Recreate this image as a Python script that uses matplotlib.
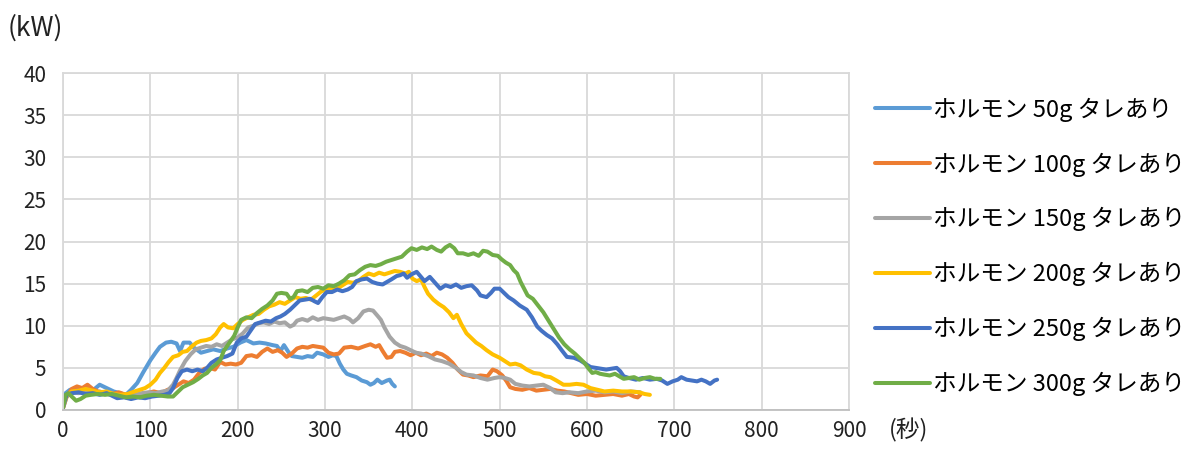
import matplotlib
matplotlib.use("Agg")
import matplotlib.pyplot as plt

plt.rcParams['font.family'] = ['Noto Sans CJK JP', 'DejaVu Sans']

# 経過時間 [秒] と 電力 [kW]
t_50 = [0, 3, 8, 15, 22, 28, 35, 42, 50, 58, 65, 72, 78, 85, 92, 100, 106, 111, 118, 124,
        130, 134, 138, 145, 150, 158, 165, 172, 180, 188, 195, 203, 210, 218, 225, 232, 240,
        245, 249, 253, 258, 262, 268, 274, 280, 286, 291, 298, 304, 309, 313, 317, 321, 325,
        330, 336, 342, 348, 352, 356, 360, 365, 371, 374, 377, 380]
kw_50 = [0.3, 2.0, 2.4, 2.5, 2.2, 2.6, 2.4, 3.0, 2.6, 2.2, 2.0, 1.8, 2.4, 3.2, 4.5, 5.9, 6.8, 7.5, 8.0, 8.1,
         7.9, 7.0, 8.0, 8.0, 7.4, 6.8, 7.0, 7.2, 7.0, 7.3, 7.5, 8.0, 8.3, 7.9, 8.0, 7.9, 7.7,
         7.6, 7.0, 7.7, 6.9, 6.4, 6.3, 6.2, 6.4, 6.3, 6.8, 6.6, 6.3, 6.5, 6.4, 5.5, 4.8, 4.3,
         4.1, 3.9, 3.5, 3.3, 3.0, 3.2, 3.6, 3.2, 3.5, 3.6, 3.1, 2.8]

t_100 = [0, 4, 10, 16, 22, 28, 34, 40, 48, 56, 64, 72, 80, 88, 96, 104, 112, 120, 126, 132,
         138, 144, 150, 156, 162, 168, 174, 180, 186, 192, 198, 204, 210, 216, 222, 228, 234,
         240, 246, 251, 256, 262, 268, 274, 280, 286, 292, 298, 304, 310, 316, 322, 330, 338,
         346, 352, 358, 362, 366, 371, 376, 380, 386, 392, 398, 404, 410, 416, 422, 428, 434,
         440, 446, 452, 458, 464, 470, 478, 486, 492, 497, 503, 508, 512, 518, 526, 534, 542,
         550, 558, 566, 574, 582, 590, 600, 610, 620, 630, 640, 648, 654, 658, 661]
kw_100 = [0.2, 1.5, 2.5, 2.8, 2.6, 3.0, 2.5, 2.2, 2.0, 1.9, 2.1, 1.8, 1.7, 1.8, 2.0, 2.2, 2.0, 2.4, 2.6, 3.0,
          3.4, 3.2, 3.6, 4.4, 4.9, 5.0, 4.8, 5.7, 5.4, 5.5, 5.4, 5.6, 6.4, 6.5, 6.3, 6.9, 7.3,
          6.9, 7.1, 6.8, 6.3, 6.7, 7.3, 7.5, 7.4, 7.6, 7.5, 7.4, 6.8, 6.6, 6.7, 7.4, 7.5, 7.3,
          7.6, 7.8, 7.5, 7.7, 7.0, 6.2, 6.3, 6.9, 7.0, 6.8, 6.5, 6.8, 6.5, 6.7, 6.4, 6.8, 6.6,
          6.2, 5.6, 4.8, 4.2, 4.1, 3.9, 4.1, 4.0, 4.8, 4.6, 4.1, 3.4, 2.7, 2.5, 2.4, 2.6, 2.3,
          2.4, 2.5, 2.3, 2.2, 2.0, 1.8, 1.9, 1.7, 1.8, 1.9, 1.7, 1.9, 1.6, 1.5, 1.8]

t_150 = [0, 4, 10, 18, 26, 34, 42, 50, 58, 66, 74, 82, 90, 98, 106, 114, 120, 126, 130, 134,
         140, 146, 152, 158, 164, 170, 176, 182, 188, 194, 200, 206, 212, 218, 224, 230, 236,
         242, 248, 254, 260, 264, 268, 274, 280, 286, 292, 298, 304, 310, 316, 322, 328, 332,
         338, 344, 350, 355, 360, 364, 368, 374, 380, 386, 392, 398, 404, 410, 418, 426, 434,
         442, 450, 456, 462, 470, 478, 486, 494, 500, 506, 512, 518, 526, 534, 542, 550, 558,
         564, 572, 580, 590, 600, 610, 620, 630, 640, 650, 661]
kw_150 = [0.2, 1.6, 2.1, 2.0, 2.3, 2.0, 2.2, 1.9, 1.8, 1.6, 1.7, 1.8, 2.0, 2.1, 2.0, 2.2, 2.3, 3.0, 3.8, 4.7,
          5.8, 6.6, 7.2, 7.4, 7.6, 7.5, 7.8, 7.6, 8.0, 8.4, 8.6, 9.1, 9.8, 10.0, 10.3, 10.4, 10.2,
          10.5, 10.3, 10.4, 9.9, 10.1, 10.6, 10.8, 10.6, 11.0, 10.7, 10.9, 10.8, 10.7, 10.9, 11.1, 10.8, 10.4,
          10.9, 11.7, 11.9, 11.8, 11.2, 10.7, 9.8, 8.7, 8.0, 7.6, 7.4, 7.1, 6.8, 6.7, 6.4, 6.0, 5.8,
          5.5, 5.0, 4.5, 4.2, 4.1, 3.8, 3.6, 3.8, 3.9, 3.8, 3.6, 3.1, 2.9, 2.8, 2.9, 3.0, 2.6,
          2.1, 2.0, 2.1, 2.0, 2.2, 2.3, 2.1, 2.2, 2.0, 2.2, 2.1]

t_200 = [0, 4, 10, 18, 26, 34, 42, 50, 58, 66, 74, 82, 88, 94, 100, 106, 111, 116, 121, 126,
         132, 137, 142, 148, 153, 158, 164, 170, 175, 180, 184, 189, 195, 200, 206, 212, 218,
         224, 230, 236, 242, 248, 254, 260, 266, 272, 278, 284, 290, 296, 302, 308, 314, 320,
         326, 332, 338, 344, 350, 356, 362, 368, 374, 380, 386, 392, 396, 400, 405, 410, 414,
         418, 424, 430, 436, 442, 447, 451, 456, 462, 467, 473, 479, 485, 492, 500, 506, 512,
         518, 524, 531, 539, 546, 552, 558, 565, 573, 580, 588, 596, 604, 612, 620, 630, 640,
         650, 660, 666, 672]
kw_200 = [0.3, 1.7, 2.2, 2.3, 2.5, 2.3, 2.1, 2.2, 1.9, 1.8, 1.9, 2.2, 2.4, 2.6, 3.0, 3.6, 4.4, 5.0, 5.7, 6.3,
          6.5, 6.9, 7.0, 7.6, 8.0, 8.2, 8.3, 8.5, 9.0, 9.8, 10.2, 9.8, 9.7, 10.2, 10.7, 11.0, 11.3,
          11.4, 11.9, 12.3, 12.5, 12.8, 12.6, 13.0, 13.4, 13.2, 13.3, 13.1, 13.6, 14.1, 14.3, 14.5, 14.4, 14.8,
          15.2, 15.1, 15.3, 15.8, 16.2, 16.0, 16.3, 16.1, 16.3, 16.5, 16.4, 16.2, 16.4, 15.6, 15.3, 15.5, 14.6,
          13.8, 13.1, 12.6, 12.2, 11.6, 10.9, 11.3, 10.2, 9.1, 8.6, 8.0, 7.6, 7.1, 6.6, 6.2, 5.8, 5.4,
          5.5, 5.3, 4.8, 4.4, 4.3, 4.0, 3.9, 3.5, 3.0, 3.0, 3.1, 3.0, 2.6, 2.4, 2.2, 2.3, 2.2,
          2.2, 2.1, 1.9, 1.8]

t_250 = [0, 4, 10, 18, 26, 34, 42, 50, 56, 62, 70, 78, 86, 94, 102, 110, 116, 122, 126, 131,
         136, 142, 148, 154, 160, 165, 170, 176, 182, 188, 194, 199, 204, 210, 216, 220, 226,
         232, 238, 244, 249, 254, 260, 266, 271, 277, 283, 288, 292, 297, 302, 308, 314, 320,
         326, 331, 336, 342, 348, 354, 360, 366, 371, 376, 382, 386, 390, 394, 399, 405, 410,
         414, 420, 426, 432, 438, 444, 450, 456, 462, 468, 474, 478, 485, 490, 494, 500, 505,
         510, 516, 523, 531, 537, 543, 548, 554, 560, 566, 571, 577, 585, 592, 598, 604, 610,
         616, 622, 628, 634, 638, 642, 648, 656, 664, 672, 680, 686, 692, 698, 704, 708, 714,
         720, 726, 731, 736, 741, 746, 749]
kw_250 = [0.3, 1.8, 2.0, 2.1, 1.9, 2.0, 1.8, 2.0, 1.7, 1.4, 1.5, 1.3, 1.5, 1.4, 1.6, 1.7, 1.8, 2.0, 2.6, 3.8,
          4.6, 4.8, 4.6, 4.8, 4.6, 5.0, 5.6, 6.0, 6.2, 6.4, 6.7, 8.0, 8.5, 8.7, 9.6, 10.2, 10.4,
          10.6, 10.5, 10.9, 11.1, 11.4, 11.9, 12.5, 13.0, 13.1, 13.2, 12.9, 12.7, 13.4, 14.0, 14.0, 14.3, 14.1,
          14.3, 14.6, 15.3, 15.5, 15.6, 15.2, 15.0, 14.9, 15.2, 15.5, 15.9, 16.0, 16.2, 15.7, 16.1, 16.4, 15.8,
          15.3, 15.8, 15.1, 14.4, 14.8, 14.6, 14.9, 14.5, 14.7, 14.8, 14.2, 13.6, 13.4, 13.9, 14.4, 14.4, 13.9,
          13.4, 13.0, 12.4, 11.9, 11.0, 9.9, 9.4, 8.9, 8.5, 7.8, 7.1, 6.3, 6.2, 5.9, 5.5, 5.1, 5.0,
          4.9, 4.8, 4.9, 5.0, 4.6, 4.0, 3.8, 3.6, 3.8, 3.6, 3.7, 3.5, 3.1, 3.4, 3.6, 3.9, 3.6,
          3.5, 3.4, 3.6, 3.4, 3.1, 3.5, 3.6]

t_300 = [0, 3, 6, 10, 15, 20, 26, 32, 40, 48, 56, 64, 72, 80, 88, 96, 104, 112, 120, 126,
         132, 137, 143, 149, 155, 160, 165, 170, 175, 180, 184, 188, 192, 196, 200, 204, 210,
         216, 222, 228, 234, 240, 245, 250, 256, 260, 264, 268, 274, 280, 286, 292, 298, 304,
         310, 316, 322, 328, 334, 340, 346, 352, 358, 364, 370, 376, 382, 388, 394, 399, 405,
         411, 417, 422, 428, 433, 438, 443, 448, 452, 458, 464, 470, 476, 481, 486, 492, 498,
         502, 507, 512, 516, 520, 524, 528, 532, 538, 544, 550, 556, 562, 568, 574, 580, 586,
         592, 597, 602, 606, 610, 615, 620, 626, 632, 637, 642, 648, 654, 660, 666, 672, 678,
         684]
kw_300 = [0.3, 1.8, 2.0, 1.6, 1.1, 1.3, 1.7, 1.8, 1.9, 1.8, 1.9, 1.7, 1.5, 1.6, 1.5, 1.7, 1.8, 1.7, 1.6, 1.6,
          2.2, 2.7, 3.0, 3.3, 3.7, 4.1, 4.4, 5.0, 5.4, 5.9, 7.0, 7.6, 8.2, 8.8, 9.8, 10.7, 11.0,
          10.9, 11.5, 12.0, 12.4, 13.0, 13.8, 13.9, 13.8, 13.2, 13.4, 14.1, 14.2, 14.0, 14.5, 14.6, 14.4, 14.8,
          14.7, 15.0, 15.4, 16.0, 16.1, 16.6, 17.0, 17.2, 17.1, 17.3, 17.6, 17.8, 18.0, 18.2, 18.8, 19.2, 19.0,
          19.3, 19.1, 19.4, 19.0, 18.8, 19.3, 19.6, 19.2, 18.6, 18.6, 18.4, 18.6, 18.3, 18.9, 18.8, 18.4, 18.3,
          17.9, 17.5, 17.2, 16.6, 16.2, 15.2, 14.4, 13.6, 13.2, 12.4, 11.6, 10.6, 9.6, 8.6, 7.8, 7.2, 6.7,
          6.1, 5.6, 4.9, 4.4, 4.5, 4.3, 4.2, 4.1, 4.3, 4.0, 3.7, 3.8, 3.9, 3.6, 3.8, 3.9, 3.7,
          3.7]

labels = ["ホルモン 50g タレあり", "ホルモン 100g タレあり", "ホルモン 150g タレあり",
          "ホルモン 200g タレあり", "ホルモン 250g タレあり", "ホルモン 300g タレあり"]
colors = ["#5B9BD5", "#ED7D31", "#A5A5A5", "#FFC000", "#4472C4", "#70AD47"]
series = [(t_50, kw_50), (t_100, kw_100), (t_150, kw_150),
          (t_200, kw_200), (t_250, kw_250), (t_300, kw_300)]

x_ticks = list(range(0, 901, 100))
y_ticks = list(range(0, 41, 5))

fig = plt.figure(figsize=(11.92, 4.51), dpi=100)
ax = fig.add_axes([63 / 1192, 1 - 410 / 451, 786 / 1192, 337 / 451])

for (t, kw), lab, col in zip(series, labels, colors):
    ax.plot(t, kw, color=col, linewidth=2.9, label=lab,
            solid_joinstyle="round", solid_capstyle="round")

ax.set_xlim(0, 900)
ax.set_ylim(0, 40)
ax.set_xticks(x_ticks)
ax.set_yticks(y_ticks)
ax.grid(True, color="#D9D9D9", linewidth=1.3)
ax.set_axisbelow(True)
for side in ["top", "right", "left"]:
    ax.spines[side].set_color("#D9D9D9")
    ax.spines[side].set_linewidth(1.3)
ax.spines["bottom"].set_color("#BFBFBF")
ax.spines["bottom"].set_linewidth(1.3)
ax.tick_params(length=0, labelsize=15, colors="#222222")
ax.tick_params(axis="y", pad=12)
ax.tick_params(axis="x", pad=7)

fig.text(8 / 1192, 1 - 28 / 451, "(kW)", fontsize=19, color="#222222",
         ha="left", va="center")
fig.text(889 / 1192, 1 - 430 / 451, "(秒)", fontsize=17, color="#222222",
         ha="left", va="center")

fig.legend(loc="upper left", bbox_to_anchor=(866 / 1192, 1 - 88 / 451),
           frameon=False, fontsize=17, handlelength=2.3, handletextpad=0.15,
           labelspacing=1.3, borderaxespad=0)

fig.savefig("out.png", dpi=100)
